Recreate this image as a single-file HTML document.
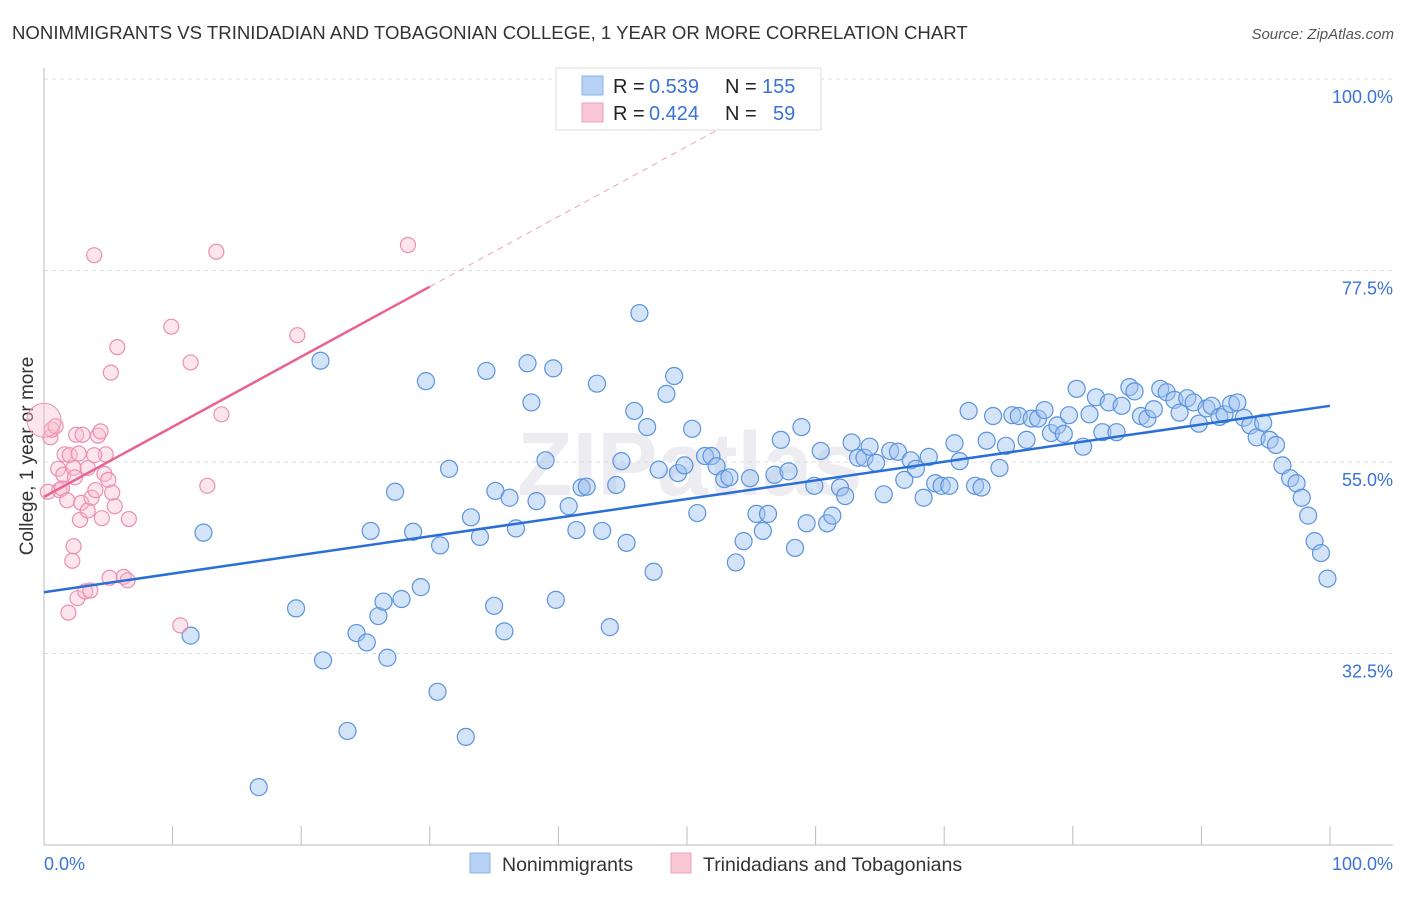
<!DOCTYPE html>
<html><head><meta charset="utf-8"><style>
body{margin:0;background:#fff;font-family:"Liberation Sans",sans-serif}
svg text{font-family:"Liberation Sans",sans-serif}
</style></head><body>
<svg id="c" width="1406" height="892">
<text x="12" y="39" font-size="18.6" fill="#333">NONIMMIGRANTS VS TRINIDADIAN AND TOBAGONIAN COLLEGE, 1 YEAR OR MORE CORRELATION CHART</text>
<text x="1394" y="39" font-size="15" fill="#555" font-style="italic" text-anchor="end">Source: ZipAtlas.com</text>
<text x="33" y="456" font-size="19" fill="#333" text-anchor="middle" transform="rotate(-90 33 456)">College, 1 year or more</text>
<text x="690" y="495" font-size="90" fill="#ececf1" text-anchor="middle" font-weight="bold">ZIPatlas</text>
<g id="grid"></g><g id="marks"></g>
<g>
<rect x="556" y="68" width="265" height="62" fill="#fff" stroke="#ddd"/>
<rect x="582" y="76" width="21" height="19" fill="#b8d2f5" stroke="#8ab2e8"/>
<rect x="582" y="103" width="21" height="19" fill="#f9c6d5" stroke="#eea0b8"/>
<text x="613" y="93" font-size="20" fill="#222">R =</text>
<text x="649" y="93" font-size="20" fill="#3a72d8">0.539</text>
<text x="725" y="93" font-size="20" fill="#222">N =</text>
<text x="762" y="93" font-size="20" fill="#3a72d8">155</text>
<text x="613" y="120" font-size="20" fill="#222">R =</text>
<text x="649" y="120" font-size="20" fill="#3a72d8">0.424</text>
<text x="725" y="120" font-size="20" fill="#222">N =</text>
<text x="773" y="120" font-size="20" fill="#3a72d8">59</text>
</g>
<g>
<rect x="470" y="853" width="20" height="20" fill="#b8d2f5" stroke="#8ab2e8"/>
<text x="502" y="871" font-size="19.5" fill="#333">Nonimmigrants</text>
<rect x="671" y="853" width="20" height="20" fill="#f9c6d5" stroke="#eea0b8"/>
<text x="703" y="871" font-size="19.5" fill="#333">Trinidadians and Tobagonians</text>
</g>
</svg>
<script>
const yTicks=[100,77.5,55,32.5];
const yTickLabels=["100.0%","77.5%","55.0%","32.5%"];
const blueX=[12.4,11.4,16.7,19.6,21.5,21.7,23.6,24.3,25.1,25.4,26.0,26.4,26.7,27.3,27.8,28.7,29.3,29.7,30.6,30.8,31.5,32.8,33.2,33.9,34.4,35.0,35.1,35.8,36.2,36.7,37.6,37.9,38.3,39.0,39.6,39.8,40.8,41.4,41.8,42.2,43.0,43.4,44.0,44.5,44.9,45.3,45.9,46.3,46.9,47.4,47.8,48.4,49.0,49.3,49.8,50.4,50.8,51.4,51.9,52.3,52.9,53.3,53.8,54.4,54.9,55.4,55.9,56.3,56.8,57.3,57.9,58.4,58.9,59.3,59.9,60.4,60.9,61.3,61.9,62.3,62.8,63.3,63.8,64.2,64.7,65.3,65.8,66.4,66.9,67.4,67.8,68.4,68.8,69.3,69.8,70.4,70.8,71.2,71.9,72.4,72.9,73.3,73.8,74.3,74.8,75.3,75.8,76.4,76.8,77.3,77.8,78.3,78.8,79.3,79.7,80.3,80.8,81.3,81.8,82.3,82.8,83.4,83.8,84.4,84.8,85.3,85.8,86.3,86.8,87.3,87.9,88.3,88.9,89.4,89.8,90.4,90.8,91.4,91.8,92.3,92.8,93.3,93.8,94.3,94.8,95.3,95.8,96.3,96.9,97.4,97.8,98.3,98.8,99.3,99.8];
const blueY=[46.7,34.6,16.8,37.8,66.9,31.7,23.4,34.9,33.8,46.9,36.9,38.6,32.0,51.5,38.9,46.8,40.3,64.5,28.0,45.2,54.2,22.7,48.5,46.2,65.7,38.1,51.6,35.1,50.8,47.2,66.6,62.0,50.4,55.2,66.0,38.8,49.8,47.0,52.0,52.1,64.2,46.9,35.6,52.3,55.1,45.5,61.0,72.5,59.1,42.1,54.1,63.0,65.1,53.7,54.6,58.9,49.0,55.7,55.7,54.5,53.0,53.2,43.2,45.7,53.1,48.9,46.9,48.9,53.5,57.6,53.9,44.9,59.1,47.8,52.2,56.3,47.8,48.7,52.0,51.0,57.3,55.5,55.5,56.8,54.9,51.2,56.3,56.2,52.9,55.2,54.2,50.8,55.6,52.5,52.2,52.2,57.2,55.1,61.0,52.2,52.0,57.5,60.4,54.3,56.9,60.5,60.4,57.6,60.1,60.1,61.1,58.4,59.3,58.3,60.5,63.6,56.8,60.6,62.6,58.5,62.0,58.5,61.6,63.8,63.3,60.4,60.1,61.2,63.6,63.2,62.3,60.8,62.5,62.0,59.5,61.3,61.6,60.3,60.6,61.8,62.0,60.2,59.3,57.9,59.6,57.6,57.0,54.6,53.1,52.5,50.8,48.7,45.7,44.3,41.3];
const pinkX=[0.3,0.5,0.6,0.9,1.1,1.2,1.4,1.5,1.6,1.8,1.9,2.0,2.2,2.3,2.3,2.4,2.5,2.6,2.8,2.9,3.0,3.2,3.4,3.4,3.6,3.7,3.9,4.0,4.2,4.4,4.5,4.7,5.0,5.1,5.2,5.3,5.5,5.7,6.2,6.5,6.6,9.9,10.6,11.4,12.7,13.4,13.8,19.7,28.3,4.8,2.7,3.9];
const pinkY=[51.5,57.9,58.8,59.2,54.2,51.7,51.9,53.5,55.9,50.5,37.3,55.8,43.4,54.3,45.1,53.2,58.2,39.0,48.2,50.2,58.2,39.8,54.3,49.3,39.9,50.8,79.3,51.7,58.1,58.6,48.4,53.6,52.9,41.4,65.5,51.4,49.8,68.5,41.5,41.1,48.3,70.9,35.8,66.7,52.2,79.7,60.6,69.9,80.5,55.9,56.0,55.8];
const blueLine=[[0,39.7],[100,61.6]];
const pinkLine=[[0,50.9],[30,75.6]];
const NS="http://www.w3.org/2000/svg";
const X=v=>44+v*12.86, Y=v=>79+(100-v)*8.511;
function mk(t,a,p){const e=document.createElementNS(NS,t);for(const k in a)e.setAttribute(k,a[k]);p.appendChild(e);return e;}
const g=document.getElementById('grid'),m=document.getElementById('marks');
yTicks.forEach((t,i)=>{
 const l=mk('line',{x1:44,x2:1393,y1:Y(t),y2:Y(t),stroke:'#ddd','stroke-dasharray':'4 4'},g);
 
 
 const tx=mk('text',{x:1393,y:Y(t)+24,'font-size':18,fill:'#3a72d8','text-anchor':'end'},g);
 tx.textContent=yTickLabels[i];
 
 
});
mk('line',{x1:44,x2:44,y1:68,y2:845,stroke:'#bbb'},g);
mk('line',{x1:44,x2:1393,y1:845,y2:845,stroke:'#bbb'},g);
for(let i=0;i<=10;i++){const t=mk('line',{x1:X(i*10),x2:X(i*10),y1:826,y2:845,stroke:'#bbb'},g);
 
 }
let t0=mk('text',{x:44,y:870,'font-size':18,fill:'#3a72d8'},g);t0.textContent='0.0%';
let t1=mk('text',{x:1393,y:870,'font-size':18,fill:'#3a72d8','text-anchor':'end'},g);t1.textContent='100.0%';
blueX.forEach((v,i)=>{const c=mk('circle',{cx:X(v),cy:Y(blueY[i]),r:8.5,fill:'rgba(160,196,240,0.45)',stroke:'#5b93de','stroke-width':1.2},m);
 
 });
pinkX.forEach((v,i)=>{const c=mk('circle',{cx:X(v),cy:Y(pinkY[i]),r:7.5,fill:'rgba(248,190,208,0.4)',stroke:'#ec8fae','stroke-width':1.2},m);
 
 });
const big=mk('circle',{cx:X(0),cy:Y(59.9),r:17,fill:'rgba(248,190,208,0.4)',stroke:'#ec8fae'},m);


const bl=mk('line',{x1:X(blueLine[0][0]),y1:Y(blueLine[0][1]),x2:X(blueLine[1][0]),y2:Y(blueLine[1][1]),stroke:'#2a6fd6','stroke-width':2.5},m);


const sl=(pinkLine[1][1]-pinkLine[0][1])/(pinkLine[1][0]-pinkLine[0][0]);
const xe=(100-pinkLine[0][1])/sl;
const pd=mk('line',{x1:X(pinkLine[1][0]),y1:Y(pinkLine[1][1]),x2:X(xe),y2:Y(100),stroke:'#f0a0b8','stroke-width':1,'stroke-dasharray':'6 5'},m);


const pl=mk('line',{x1:X(pinkLine[0][0]),y1:Y(pinkLine[0][1]),x2:X(pinkLine[1][0]),y2:Y(pinkLine[1][1]),stroke:'#e8648e','stroke-width':2.5},m);


</script>
</body></html>
